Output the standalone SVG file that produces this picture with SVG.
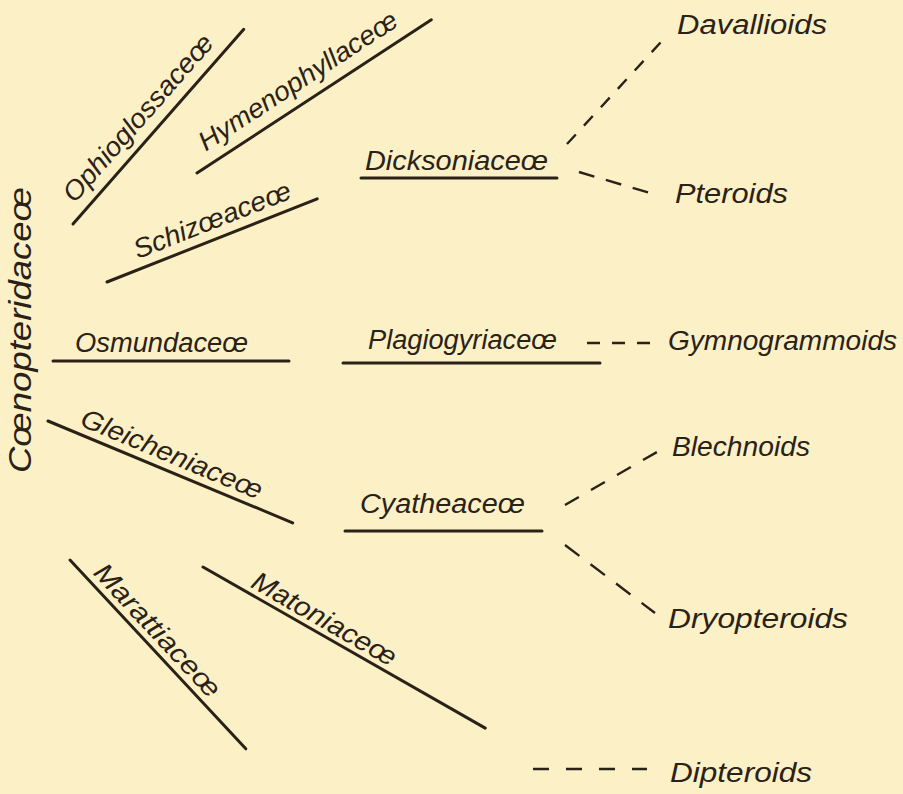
<svg xmlns="http://www.w3.org/2000/svg" width="903" height="794" viewBox="0 0 903 794">
<style>
  text { font-family: "Liberation Sans", Arial, sans-serif; font-style: italic; font-size: 27px; fill: #2a2217; }
  .big { font-size: 32px; }
  .rule { stroke: #2a2217; stroke-width: 3; stroke-linecap: round; fill: none; }
  .dash { stroke: #2a2217; stroke-width: 2.4; fill: none; }
</style>
<rect width="903" height="794" fill="#fcf0c7"/>

<g id="coenopteridaceae">
  <text class="big" transform="translate(31,473) rotate(-90)" textLength="286" lengthAdjust="spacingAndGlyphs">Cœnopteridaceœ</text>
</g>

<g id="ophioglossaceae" transform="translate(73,224) rotate(-48.75)">
  <line class="rule" x1="0" y1="0" x2="259" y2="0"/>
  <text x="16" y="-12" textLength="213" lengthAdjust="spacingAndGlyphs">Ophioglossaceœ</text>
</g>

<g id="hymenophyllaceae" transform="translate(197,173) rotate(-33.18)">
  <line class="rule" x1="0" y1="0" x2="280" y2="0"/>
  <text x="19" y="-13" textLength="232" lengthAdjust="spacingAndGlyphs">Hymenophyllaceœ</text>
</g>

<g id="schizaeaceae" transform="translate(107,282) rotate(-21.57)">
  <line class="rule" x1="0" y1="0" x2="226" y2="0"/>
  <text x="37" y="-10" textLength="167" lengthAdjust="spacingAndGlyphs">Schizœaceœ</text>
</g>

<g id="osmundaceae">
  <line class="rule" x1="53" y1="361" x2="289" y2="361"/>
  <text x="75" y="352" textLength="173" lengthAdjust="spacingAndGlyphs">Osmundaceœ</text>
</g>

<g id="gleicheniaceae" transform="translate(48,421) rotate(22.6)">
  <line class="rule" x1="0" y1="0" x2="265" y2="0"/>
  <text x="30" y="-8" textLength="194" lengthAdjust="spacingAndGlyphs">Gleicheniaceœ</text>
</g>

<g id="marattiaceae" transform="translate(70,560) rotate(47.04)">
  <line class="rule" x1="0" y1="0" x2="258" y2="0"/>
  <text x="25" y="-7" textLength="172" lengthAdjust="spacingAndGlyphs">Marattiaceœ</text>
</g>

<g id="matoniaceae" transform="translate(203,567) rotate(29.72)">
  <line class="rule" x1="0" y1="0" x2="325" y2="0"/>
  <text x="50" y="-6" textLength="162" lengthAdjust="spacingAndGlyphs">Matoniaceœ</text>
</g>

<g id="dicksoniaceae">
  <line class="rule" x1="361" y1="178" x2="557" y2="178"/>
  <text x="365" y="170" textLength="183" lengthAdjust="spacingAndGlyphs">Dicksoniaceœ</text>
</g>

<g id="plagiogyriaceae">
  <line class="rule" x1="343" y1="363" x2="600" y2="363"/>
  <text x="368" y="349" textLength="189" lengthAdjust="spacingAndGlyphs">Plagiogyriaceœ</text>
</g>

<g id="cyatheaceae">
  <line class="rule" x1="345" y1="531" x2="542" y2="531"/>
  <text x="360" y="513" textLength="165" lengthAdjust="spacingAndGlyphs">Cyatheaceœ</text>
</g>

<g id="davallioids"><text x="677" y="34" textLength="150" lengthAdjust="spacingAndGlyphs">Davallioids</text></g>
<g id="pteroids"><text x="675" y="203" textLength="113" lengthAdjust="spacingAndGlyphs">Pteroids</text></g>
<g id="gymnogrammoids"><text x="668" y="350" textLength="229" lengthAdjust="spacingAndGlyphs">Gymnogrammoids</text></g>
<g id="blechnoids"><text x="672" y="456" textLength="138" lengthAdjust="spacingAndGlyphs">Blechnoids</text></g>
<g id="dryopteroids"><text x="668" y="628" textLength="180" lengthAdjust="spacingAndGlyphs">Dryopteroids</text></g>
<g id="dipteroids"><text x="670" y="782" textLength="142" lengthAdjust="spacingAndGlyphs">Dipteroids</text></g>

<g id="connectors">
  <line class="dash" x1="567" y1="144" x2="661" y2="42" stroke-dasharray="13 12"/>
  <line class="dash" x1="579" y1="172" x2="650" y2="193" stroke-dasharray="16 12"/>
  <line class="dash" x1="587" y1="343" x2="650" y2="343" stroke-dasharray="13 12"/>
  <line class="dash" x1="565" y1="505" x2="657" y2="452" stroke-dasharray="16 14"/>
  <line class="dash" x1="565" y1="545" x2="655" y2="613" stroke-dasharray="18 14"/>
  <line class="dash" x1="533" y1="769" x2="647" y2="769" stroke-dasharray="16 17"/>
</g>
</svg>
